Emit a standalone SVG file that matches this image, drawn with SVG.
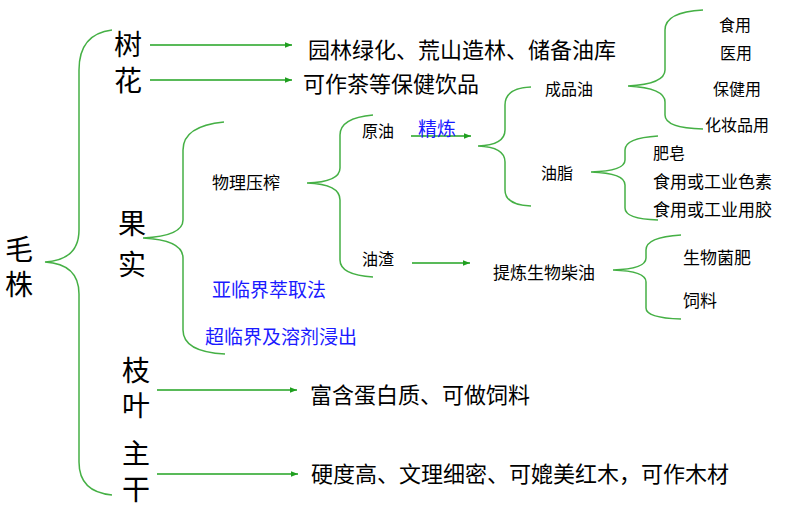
<svg xmlns="http://www.w3.org/2000/svg" width="785" height="509" viewBox="0 0 785 509">
<defs>
<marker id="ah" viewBox="0 0 10 10" refX="10" refY="5" markerWidth="7" markerHeight="7" markerUnits="userSpaceOnUse" orient="auto">
<path d="M0,1 L10,5 L0,9 Z" fill="#1f9f1f"/>
</marker>
<style>
.br{fill:none;stroke:#45b045;stroke-width:1.5}
.ar{fill:none;stroke:#22a322;stroke-width:1.6;marker-end:url(#ah)}
text{font-family:"Noto Sans CJK SC","Noto Sans",sans-serif;fill:#000;dominant-baseline:central}
.v{writing-mode:vertical-rl;font-size:28px}
.mid{font-size:22px}
.sm{font-size:17px}
.xs{font-size:16px}
.blue{fill:#1a1aff;font-size:19px}
</style>
</defs>
<rect width="785" height="509" fill="#fff"/>
<g id="connectors">
<path class="br" d="M112,30 Q79,34 79,70 L79,230 Q79,260 45,262 Q79,264 79,294 L79,462 Q79,492 112,495"/>
<path class="br" d="M224,122 Q183,126 183,150 L183,220 Q183,236 143,238 Q183,240 183,258 L183,330 Q183,352 225,354"/>
<path class="br" d="M373,115 Q340,118 340,135 L340,168 Q340,182 307,183 Q340,184 340,200 L340,260 Q340,275 373,277"/>
<path class="br" d="M531,87 Q505,88 505,105 L505,130 Q505,145 478,146 Q505,147 505,162 L505,190 Q505,205 531,206"/>
<path class="br" d="M703,10 Q665,12 665,30 L665,70 Q665,84 628,86 Q665,88 665,102 L665,115 Q665,128 703,129"/>
<path class="br" d="M658,136 Q625,138 625,150 L625,160 Q625,171 591,172 Q625,173 625,185 L625,208 Q625,219 658,220"/>
<path class="br" d="M681,235 Q646,237 646,250 L646,258 Q646,269 613,270 Q646,271 646,282 L646,308 Q646,318 681,319"/>
<line class="ar" x1="150" y1="45" x2="292" y2="45"/>
<line class="ar" x1="150" y1="80" x2="292" y2="80"/>
<line class="ar" x1="411" y1="136" x2="471" y2="136"/>
<line class="ar" x1="412" y1="263" x2="470" y2="263"/>
<line class="ar" x1="157" y1="390" x2="297" y2="390"/>
<line class="ar" x1="157" y1="474" x2="298" y2="474"/>
</g>
<g id="n-maozhu"><text class="v" x="19" y="235" font-size="27">毛<tspan dy="7">株</tspan></text></g>
<g id="n-shuhua"><text class="v" x="128" y="30">树<tspan dy="8">花</tspan></text></g>
<g id="n-yuanlin"><text class="mid" x="308" y="48">园林绿化、荒山造林、储备油库</text></g>
<g id="n-kezuo"><text class="mid" x="303" y="82">可作茶等保健饮品</text></g>
<g id="n-guoshi"><text class="v" x="132" y="209" font-size="30">果<tspan dy="13">实</tspan></text></g>
<g id="n-wuli"><text class="sm" x="212" y="181" font-size="18.5">物理压榨</text></g>
<g id="n-yuanyou"><text class="xs" x="362" y="130">原油</text></g>
<g id="n-jinglian"><text class="blue" x="418" y="127" font-size="20">精炼</text></g>
<g id="n-youzha"><text class="xs" x="362" y="258">油渣</text></g>
<g id="n-chengpin"><text class="xs" x="545" y="88">成品油</text></g>
<g id="n-youzhi"><text class="xs" x="541" y="172">油脂</text></g>
<g id="n-shiyong"><text class="xs" x="719" y="24">食用</text></g>
<g id="n-yiyong"><text class="xs" x="720" y="52">医用</text></g>
<g id="n-baojian"><text class="xs" x="713" y="88">保健用</text></g>
<g id="n-huazhuang"><text class="xs" x="705" y="124">化妆品用</text></g>
<g id="n-feizao"><text class="xs" x="653" y="152">肥皂</text></g>
<g id="n-sesu"><text class="sm" x="653" y="180">食用或工业色素</text></g>
<g id="n-jiao"><text class="sm" x="653" y="208">食用或工业用胶</text></g>
<g id="n-tilian"><text class="sm" x="493" y="271">提炼生物柴油</text></g>
<g id="n-junfei"><text class="sm" x="683" y="256">生物菌肥</text></g>
<g id="n-siliao"><text class="sm" x="683" y="299">饲料</text></g>
<g id="n-yalin"><text class="blue" x="212" y="288">亚临界萃取法</text></g>
<g id="n-chaolin"><text class="blue" x="205" y="335">超临界及溶剂浸出</text></g>
<g id="n-zhiye"><text class="v" x="136" y="356">枝<tspan dy="7">叶</tspan></text></g>
<g id="n-fuhan"><text class="mid" x="310" y="393">富含蛋白质、可做饲料</text></g>
<g id="n-zhugan"><text class="v" x="136" y="439">主<tspan dy="8">干</tspan></text></g>
<g id="n-yingdu"><text class="mid" x="311" y="472">硬度高、文理细密、可媲美红木，可作木材</text></g>
</svg>
